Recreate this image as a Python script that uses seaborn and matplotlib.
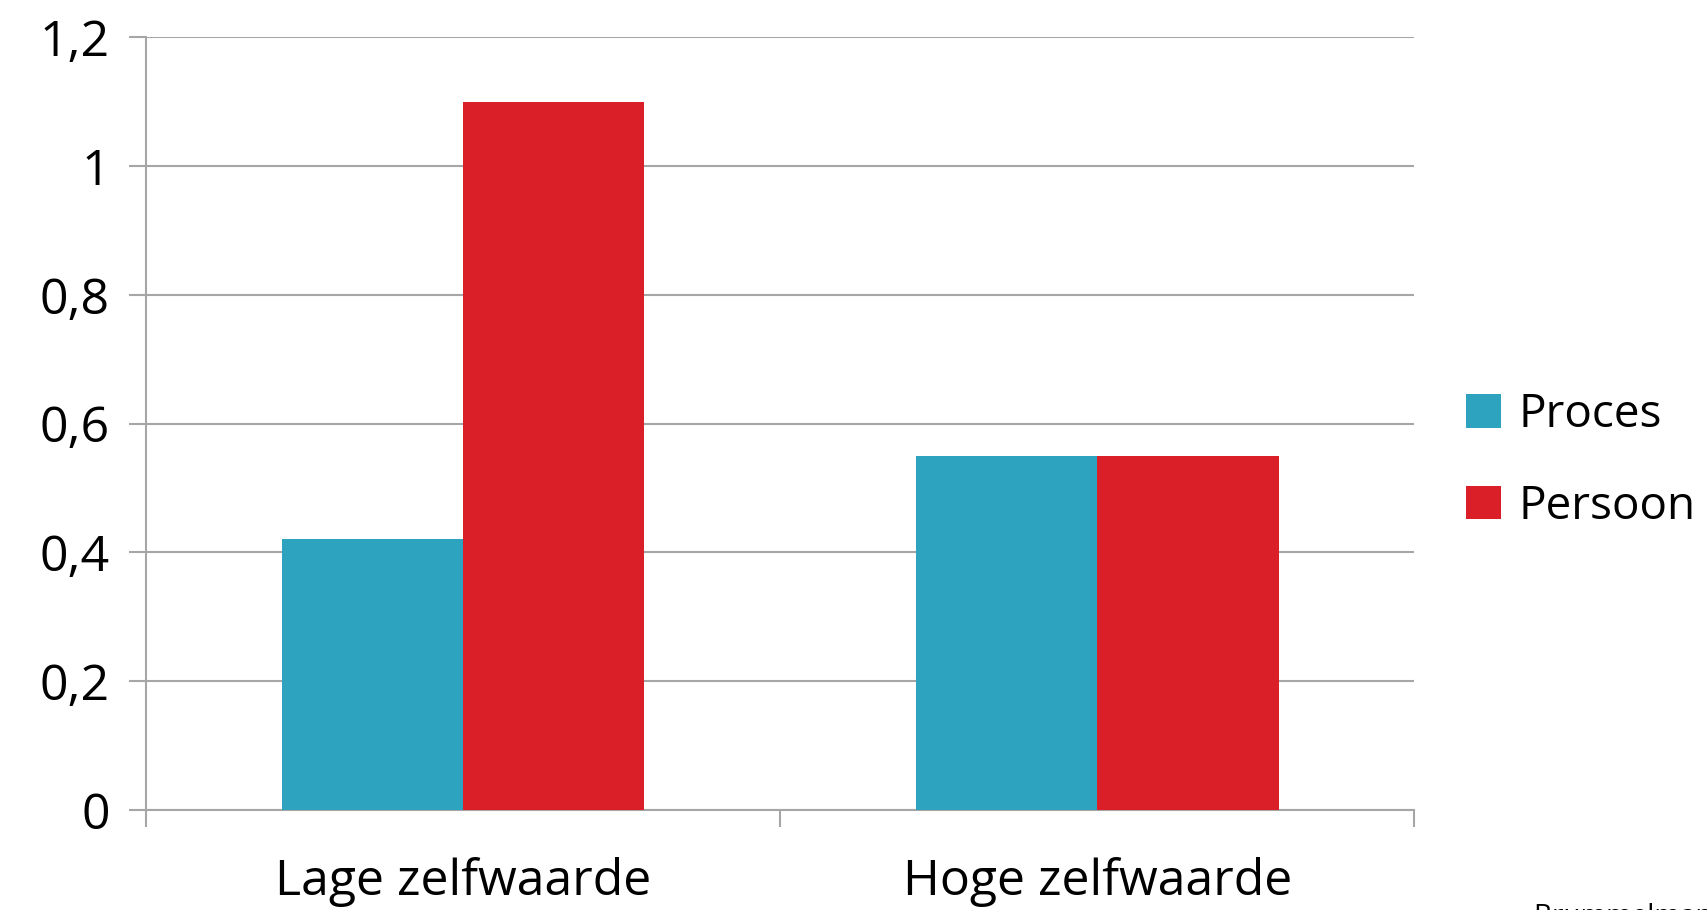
import seaborn as sns
import matplotlib.pyplot as plt
import pandas as pd

groups = ['Lage zelfwaarde', 'Hoge zelfwaarde']
series = ['Proces', 'Persoon']
proces = [0.42, 0.55]
persoon = [1.10, 0.55]
yticks = [0, 0.2, 0.4, 0.6, 0.8, 1.0, 1.2]
ylabels = ['0', '0,2', '0,4', '0,6', '0,8', '1', '1,2']
colors = ['#2EA3C0', '#DA1F29']

df = pd.DataFrame({
    'groep': groups * 2,
    'type': [series[0]] * 2 + [series[1]] * 2,
    'waarde': proces + persoon,
})

sns.set_style('white')
plt.rcParams['font.family'] = ['Open Sans', 'DejaVu Sans']
plt.rcParams['text.color'] = 'black'
plt.rcParams['xtick.color'] = 'black'
plt.rcParams['ytick.color'] = 'black'

fig = plt.figure(figsize=(17.08, 9.10), dpi=100)
ax = fig.add_axes([0.0855, 0.110, 0.7425, 0.849])

sns.barplot(data=df, x='groep', y='waarde', hue='type', palette=colors,
            width=0.572, gap=0, saturation=1, linewidth=0, ax=ax, zorder=3)

grid = '#A6A6A6'
ax.set_ylim(0, 1.2)
ax.set_xlim(-0.5, 1.5)
ax.set_yticks(yticks)
ax.set_yticklabels(ylabels, fontweight='medium')
ax.yaxis.grid(True, color=grid, linewidth=1.5, zorder=0)
ax.set_axisbelow(True)
ax.tick_params(axis='y', length=12, width=1.5, color=grid, pad=14, labelsize=36, left=True)
ax.set_xticks([-0.5, 0.5, 1.5], minor=True)
ax.tick_params(axis='x', which='minor', length=12, width=1.5, color=grid, bottom=True)
ax.tick_params(axis='x', which='major', length=0, pad=34, labelsize=36)
for t in ax.get_xticklabels():
    t.set_fontweight('medium')
ax.set_xlabel('')
ax.set_ylabel('')

for s in ['top', 'right']:
    ax.spines[s].set_visible(False)
for s in ['left', 'bottom']:
    ax.spines[s].set_color(grid)
    ax.spines[s].set_linewidth(1.5)

ax.legend(loc='center left', bbox_to_anchor=(1.041, 0.452), frameon=False,
          prop={'size': 33, 'weight': 'medium'}, handlelength=0.75, handleheight=0.75,
          handletextpad=0.4, labelspacing=1.0, borderaxespad=0, borderpad=0)

fig.text(0.898, 0.008, 'Brummelman et al.', fontsize=20, va='top', ha='left')

fig.savefig('out.png', dpi=100)
